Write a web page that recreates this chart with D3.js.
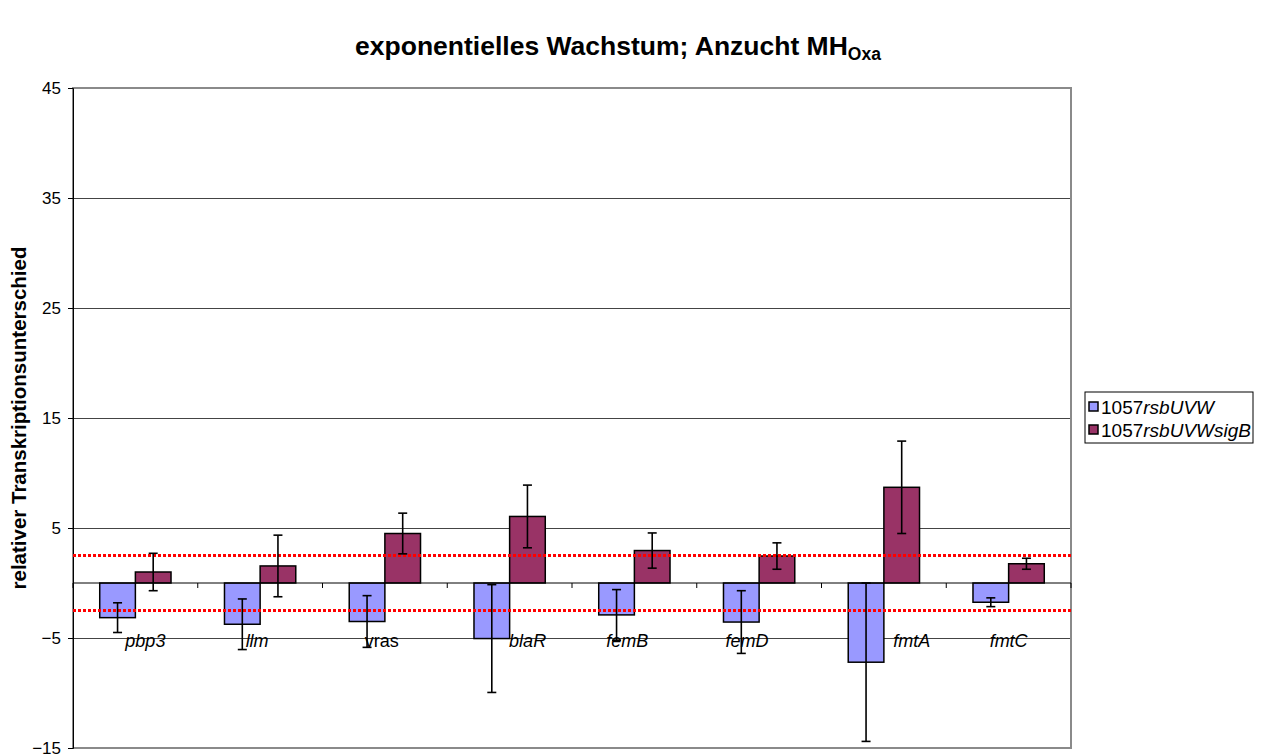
<!DOCTYPE html>
<html><head><meta charset="utf-8">
<script src="https://cdn.jsdelivr.net/npm/d3@7"></script>
<style>body{margin:0;background:#fff}svg{display:block;font-family:"Liberation Sans",Arial,sans-serif}</style>
</head><body><svg id="c" width="1266" height="756"></svg>
<script>
const categories = ["pbp3","llm","vras","blaR","femB","femD","fmtA","fmtC"];
const italicCat = [true,true,false,true,true,true,true,true];
const seriesNames = ["1057rsbUVW","1057rsbUVWsigB"];
const valuesUVW = [-3.15,-3.75,-3.5,-5.05,-2.9,-3.55,-7.2,-1.75];
const errUVW = [1.35,2.3,2.35,4.9,2.3,2.85,7.2,0.4];
const valuesSigB = [1.0,1.55,4.5,6.05,2.95,2.45,8.7,1.75];
const errSigB = [1.7,2.8,1.85,2.85,1.6,1.2,4.2,0.5];
const yTicks = [-15,-5,5,15,25,35,45];
const thresholds = [2.5,-2.5];
const colors = ["#9999FF","#993366"];
const labelShift = [10,-3,-3,18,-7,-12,28,0];

const svg = d3.select("#c");
const L=73,R=1071,T=88,B=748;
const y = d3.scaleLinear().domain([-15,45]).range([B,T]);
const x = d3.scaleBand().domain(categories).range([L,R]);
const bw = x.bandwidth()/3.5;

// gridlines
svg.append("g").selectAll("line").data(yTicks.filter(t=>t>-15&&t<45)).join("line")
  .attr("x1",L).attr("x2",R).attr("y1",d=>y(d)).attr("y2",d=>y(d))
  .attr("stroke","#444").attr("stroke-width",1).attr("shape-rendering","crispEdges");
// plot border
svg.append("rect").attr("x",L).attr("y",T).attr("width",R-L).attr("height",B-T)
  .attr("fill","none").attr("stroke","#8a8a8a").attr("stroke-width",2);

// y axis
const ya = d3.axisLeft(y).tickValues(yTicks).tickSize(5).tickPadding(7);
const gy = svg.append("g").attr("transform",`translate(${L},0)`).call(ya);
gy.select(".domain").attr("stroke","#000");
gy.selectAll("text").attr("font-size",17).attr("font-family","Liberation Sans, Arial").attr("fill","#000");

// bars
const series = [
  {vals:valuesUVW, errs:errUVW, off:-bw, color:colors[0]},
  {vals:valuesSigB, errs:errSigB, off:0, color:colors[1]}
];
series.forEach(s=>{
  const g = svg.append("g");
  g.selectAll("rect").data(categories).join("rect")
    .attr("x",(c)=>x(c)+x.bandwidth()/2+s.off)
    .attr("width",bw)
    .attr("y",(c,i)=>y(Math.max(0,s.vals[i])))
    .attr("height",(c,i)=>Math.abs(y(s.vals[i])-y(0)))
    .attr("fill",s.color).attr("stroke","#000").attr("stroke-width",1.5);
});

// zero axis
const gx = svg.append("g").attr("transform",`translate(0,${y(0)})`);
gx.append("line").attr("x1",L).attr("x2",R).attr("stroke","#000").attr("stroke-width",1);
gx.selectAll(".tk").data(d3.range(categories.length+1)).join("line")
  .attr("x1",i=>L+i*x.step()).attr("x2",i=>L+i*x.step()).attr("y1",0).attr("y2",5)
  .attr("stroke","#000");

// threshold lines
svg.append("g").selectAll("line").data(thresholds).join("line")
  .attr("x1",L).attr("x2",R).attr("y1",d=>y(d)).attr("y2",d=>y(d))
  .attr("stroke","#FF0000").attr("stroke-width",3).attr("stroke-dasharray","3,2");

// error bars
series.forEach(s=>{
  const g = svg.append("g").attr("stroke","#000").attr("stroke-width",1.6);
  categories.forEach((c,i)=>{
    const cx = x(c)+x.bandwidth()/2+s.off+bw/2;
    const hi=y(s.vals[i]+s.errs[i]), lo=y(s.vals[i]-s.errs[i]);
    g.append("line").attr("x1",cx).attr("x2",cx).attr("y1",hi).attr("y2",lo);
    g.append("line").attr("x1",cx-4.5).attr("x2",cx+4.5).attr("y1",hi).attr("y2",hi);
    g.append("line").attr("x1",cx-4.5).attr("x2",cx+4.5).attr("y1",lo).attr("y2",lo);
  });
});

// category labels
svg.append("g").selectAll("text").data(categories).join("text")
  .attr("x",(c,i)=>x(c)+x.bandwidth()/2+labelShift[i])
  .attr("y",647).attr("text-anchor","middle").attr("font-size",18)
  .attr("font-style",(c,i)=>italicCat[i]?"italic":"normal").text(c=>c);

// title
const title = svg.append("text").attr("x",618).attr("y",55).attr("text-anchor","middle")
  .attr("font-size",26.5).attr("font-weight","bold");
title.append("tspan").text("exponentielles Wachstum; Anzucht MH");
title.append("tspan").attr("font-size",17.5).attr("dy",5).text("Oxa");

// y title
svg.append("text").attr("transform",`translate(26,${(T+B)/2}) rotate(-90)`)
  .attr("text-anchor","middle").attr("font-size",20.5).attr("font-weight","bold")
  .text("relativer Transkriptionsunterschied");

// legend
const lg = svg.append("g");
lg.append("rect").attr("x",1085).attr("y",392).attr("width",168).attr("height",51)
  .attr("fill","#fff").attr("stroke","#000").attr("stroke-width",1);
seriesNames.forEach((n,i)=>{
  const yy = 407+i*23;
  lg.append("rect").attr("x",1089).attr("y",yy-5).attr("width",9).attr("height",9)
    .attr("fill",colors[i]).attr("stroke","#000").attr("stroke-width",1.5);
  const t = lg.append("text").attr("x",1101).attr("y",yy+6.5).attr("font-size",19);
  t.append("tspan").text(n.slice(0,4));
  t.append("tspan").attr("font-style","italic").text(n.slice(4));
});
</script></body></html>
